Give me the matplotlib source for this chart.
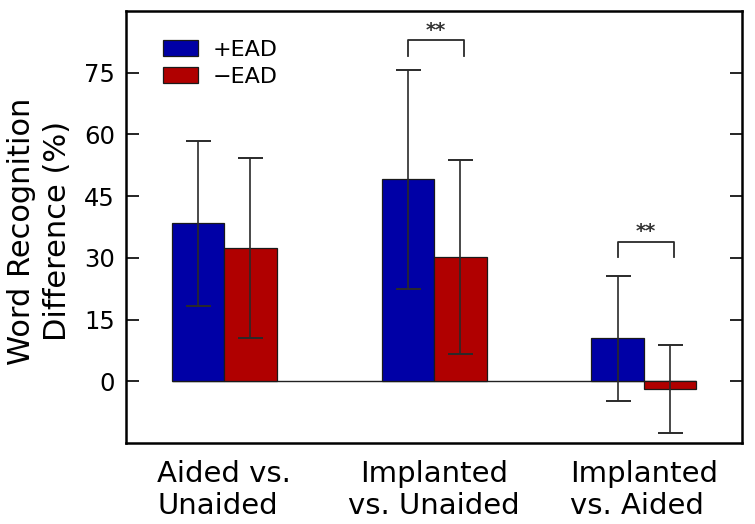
import matplotlib
matplotlib.use("Agg")
import matplotlib.pyplot as plt
import numpy as np
from matplotlib.patches import Patch

categories = ["Aided vs.\nUnaided", "Implanted\nvs. Unaided", "Implanted\nvs. Aided"]
label_align = ["left", "center", "left"]
series_names = ["+EAD", "\u2212EAD"]
plus_ead = [38.4, 49.1, 10.4]
plus_ead_sd = [20.0, 26.6, 15.2]
minus_ead = [32.3, 30.2, -1.9]
minus_ead_sd = [21.9, 23.6, 10.6]
yticks = [0, 15, 30, 45, 60, 75]
sig_groups = [1, 2]
sig_heights = [79.1, 30.1]
sig_labels = ["**", "**"]

blue = "#0000a6"
red = "#b00000"
errc = "#2a2a2a"

plt.rcParams['font.family'] = ['DejaVu Sans']
fig = plt.figure(figsize=(7.55, 5.24), dpi=100)
ax = fig.add_axes([0.1669, 0.1546, 0.8159, 0.8244])

x = np.arange(len(categories))
w = 0.25
ax.hlines(0, x[0] - w, x[-1] + w, color="#222222", lw=1.0, zorder=1)
ax.bar(x - w/2, plus_ead, w, color=blue, edgecolor="#1a1a1a", lw=0.9, zorder=2)
ax.bar(x + w/2, minus_ead, w, color=red, edgecolor="#1a1a1a", lw=0.9, zorder=2)
ax.errorbar(x - w/2, plus_ead, yerr=plus_ead_sd, fmt="none", ecolor=errc,
            elinewidth=1.2, capsize=9, capthick=1.4, zorder=3)
ax.errorbar(x + w/2, minus_ead, yerr=minus_ead_sd, fmt="none", ecolor=errc,
            elinewidth=1.2, capsize=9, capthick=1.4, zorder=3)

for g, h, lab in zip(sig_groups, sig_heights, sig_labels):
    x0, x1 = g - w/2, g + w/2 + 0.02
    ax.plot([x0, x0, x1, x1], [h, h + 3.8, h + 3.8, h], color=errc, lw=1.3, zorder=3)
    ax.text((x0 + x1) / 2, h + 6.2, lab, ha="center", va="center", fontsize=14,
            fontweight="bold", color="#333333")

ax.set_xlim(-0.467, 2.467)
ax.set_ylim(-15, 90)
ax.set_yticks(yticks)
ax.set_xticks(x)
ax.set_xticklabels(categories, fontsize=21, linespacing=1.22)
for t, a in zip(ax.get_xticklabels(), label_align):
    t.set_multialignment(a)
ax.tick_params(axis="x", length=0, pad=12)
ax.tick_params(axis="y", direction="in", length=9, width=1.2, labelsize=17.5,
               right=True, pad=8)
for s in ax.spines.values():
    s.set_linewidth(1.8)
ax.set_ylabel("Word Recognition\nDifference (%)", fontsize=22, linespacing=1.3)
ax.yaxis.set_label_coords(-0.088, 0.49)

handles = [Patch(facecolor=blue, edgecolor="#1a1a1a", lw=0.9),
           Patch(facecolor=red, edgecolor="#1a1a1a", lw=0.9)]
ax.legend(handles, series_names, loc="upper left", bbox_to_anchor=(0.0385, 0.964),
          frameon=False, fontsize=16, handlelength=1.55, handleheight=0.72,
          handletextpad=0.7, labelspacing=0.3, borderaxespad=0.2)

fig.savefig("out.png", dpi=100)
